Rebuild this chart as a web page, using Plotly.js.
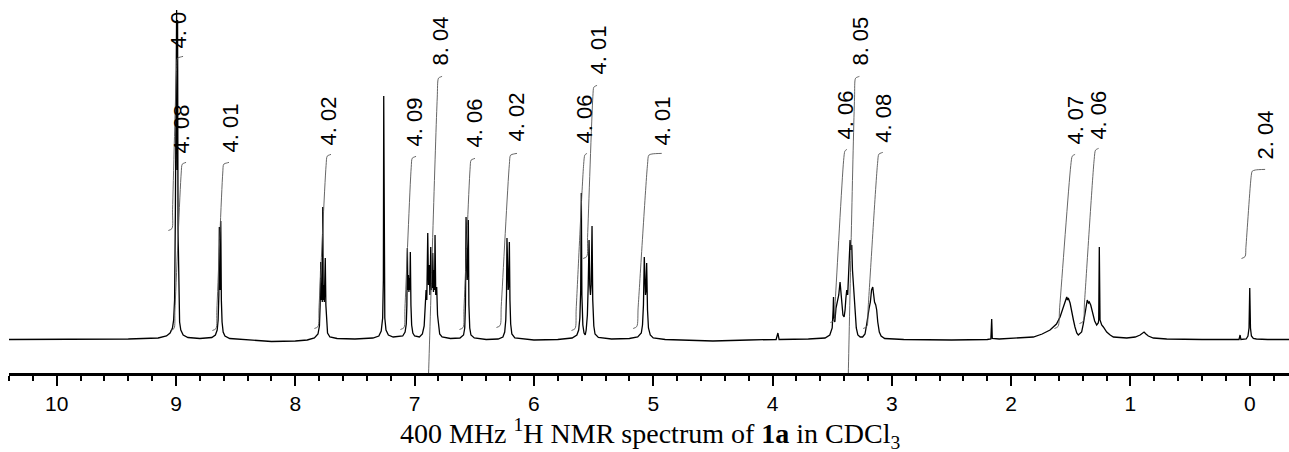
<!DOCTYPE html>
<html>
<head>
<meta charset="utf-8">
<script src="https://cdn.plot.ly/plotly-3.0.1.min.js"></script>
<style>html,body{margin:0;padding:0;background:#fff;}#chart{width:1289px;height:452px;}</style>
</head>
<body>
<div id="chart"></div>
<script>
// Spectrum: [ppm, intensity]
const spectrum = [
[10.40,0.5],[9.80,0.5],[9.40,1],[9.15,2],[9.08,4],[9.05,7],[9.03,12],[9.02,20],[9.012,40],[9.006,120],[9.002,300],[8.999,150],[8.995,330],[8.991,170],[8.987,320],[8.983,110],[8.977,35],[8.97,18],[8.96,10],[8.94,5],[8.90,2.5],[8.80,1.5],
[8.70,2.5],[8.67,5],[8.655,10],[8.647,20],[8.641,45],[8.637,113],[8.633,55],[8.630,50],[8.628,60],[8.625,119],[8.620,40],[8.614,18],[8.605,8],[8.59,4],[8.55,1.5],[8.40,0],[8.20,-1.5],[8.00,-1],[7.90,0],
[7.84,2],[7.81,6],[7.798,14],[7.792,35],[7.787,78],[7.782,40],[7.778,55],[7.774,38],[7.770,133],[7.766,40],[7.762,55],[7.757,38],[7.749,82],[7.744,35],[7.738,14],[7.73,7],[7.71,3],[7.65,1.5],[7.50,1],
[7.35,2],[7.30,4],[7.28,9],[7.268,22],[7.262,60],[7.259,244],[7.256,60],[7.250,22],[7.24,10],[7.22,5],[7.18,3],
[7.10,4],[7.08,8],[7.07,16],[7.065,35],[7.061,92],[7.057,50],[7.052,65],[7.048,48],[7.044,62],[7.040,50],[7.036,88],[7.031,35],[7.025,15],[7.015,7],[7.00,4],[6.96,3],
[6.935,6],[6.92,14],[6.912,30],[6.904,50],[6.898,40],[6.890,107],[6.884,55],[6.878,75],[6.872,45],[6.865,93],[6.859,50],[6.854,70],[6.851,52],[6.848,87],[6.842,48],[6.836,70],[6.833,50],[6.829,105],[6.823,45],[6.815,53],[6.808,25],[6.80,12],[6.79,6],[6.77,3],[6.70,1.5],
[6.62,2],[6.59,5],[6.58,12],[6.574,35],[6.569,123],[6.564,70],[6.559,60],[6.555,70],[6.550,120],[6.545,35],[6.538,12],[6.528,5],[6.50,2],[6.40,0.5],
[6.30,1],[6.26,3],[6.245,8],[6.236,20],[6.230,45],[6.226,102],[6.221,55],[6.216,50],[6.211,55],[6.206,98],[6.201,40],[6.195,16],[6.185,6],[6.16,2],[6.00,0],[5.80,0.5],
[5.68,2],[5.64,5],[5.625,10],[5.615,22],[5.608,50],[5.603,147],[5.598,45],[5.590,15],[5.580,7],[5.570,5],[5.562,10],[5.552,25],[5.545,55],[5.538,100],[5.532,55],[5.526,45],[5.520,55],[5.513,114],[5.507,40],[5.498,14],[5.488,6],[5.46,2.5],[5.35,1],
[5.20,1.5],[5.13,3],[5.10,7],[5.09,15],[5.082,35],[5.075,83],[5.070,50],[5.065,45],[5.060,50],[5.055,77],[5.048,30],[5.040,12],[5.025,5],[5.00,2],[4.90,0.5],[4.50,-1],[4.20,0],
[3.97,0.5],[3.955,7],[3.945,0.5],[3.70,1],
[3.56,2],[3.52,5],[3.50,12],[3.492,30],[3.489,43],[3.485,22],[3.478,18],[3.468,32],[3.455,40],[3.445,45],[3.434,58],[3.425,45],[3.418,35],[3.410,25],[3.400,23],[3.392,30],[3.385,42],[3.378,50],[3.370,45],[3.362,65],[3.355,90],[3.350,100],[3.343,90],[3.336,95],[3.330,70],[3.323,55],[3.316,47],[3.308,30],[3.298,12],[3.285,5],[3.265,3],[3.245,3],
[3.225,6],[3.212,15],[3.200,28],[3.190,32],[3.180,38],[3.170,50],[3.160,53],[3.152,45],[3.145,38],[3.135,35],[3.127,30],[3.118,18],[3.105,8],[3.09,4],[3.06,1.5],[2.90,0.5],[2.50,0],
[2.20,0.5],[2.17,1],[2.163,21],[2.158,1.5],[2.10,1],[1.90,2],
[1.814,3],[1.74,6],[1.674,10],[1.62,16],[1.590,23],[1.565,32],[1.548,38],[1.534,43],[1.527,40],[1.521,42],[1.506,37],[1.492,30],[1.478,20],[1.465,13],[1.450,7],[1.437,5],[1.425,6],[1.409,8],[1.395,16],[1.381,27],[1.370,36],[1.362,40],[1.352,37],[1.345,38],[1.333,35],[1.316,27],[1.300,19],[1.283,15],[1.270,17],[1.266,20],[1.261,93],[1.255,20],[1.248,16],[1.241,15],[1.227,13],[1.199,8],[1.170,5],[1.143,3],[1.031,2],[0.960,3],[0.919,5],[0.900,7],[0.886,8],[0.870,6],[0.850,4],[0.808,2],[0.696,1],[0.40,0.5],[0.137,0.5],
[0.090,0.5],[0.081,5],[0.074,0.5],[0.030,1],[0.015,4],[0.006,12],[0.0,52],[-0.006,12],[-0.014,4],[-0.030,1.5],[-0.056,1],[-0.15,0.5],[-0.33,0.5]
];

// Integrals
const intLabels = ["4. 0","4. 08","4. 01","4. 02","4. 09","8. 04","4. 06","4. 02","4. 06","4. 01","4. 01","4. 06","8. 05","4. 08","4. 07","4. 06","2. 04"];
const intStart  = [9.034, 9.017, 8.665, 7.810, 7.089, 6.897, 6.594, 6.284, 5.655, 5.557, 5.138, 3.485, 3.375, 3.210, 1.607, 1.397, 0.039];
const intTop    = [8.992, 8.952, 8.604, 7.737, 7.024, 6.804, 6.531, 6.200, 5.578, 5.502, 5.041, 3.398, 3.308, 3.113, 1.492, 1.297, -0.017];
const intEnd    = [8.941, 8.916, 8.556, 7.701, 6.988, 6.770, 6.494, 6.142, 5.555, 5.471, 4.929, 3.376, 3.272, 3.076, 1.464, 1.267, -0.129];
const intLow    = [110, 10, 10, 12, 11, -86, 11, 13, 10, 82, 12, 18, -86, 12, 12, 17, 82];
const intHigh   = [283, 177, 177, 185, 183, 263, 181, 186, 186, 254, 186, 190, 263, 187, 185, 191, 170];
const labelPpm  = [8.983, 8.950, 8.547, 7.718, 6.997, 6.787, 6.502, 6.142, 5.572, 5.463, 4.919, 3.392, 3.266, 3.073, 1.464, 1.271, -0.128];
const labelVal  = [289, 185, 185, 193, 192, 272, 190, 197, 195, 263, 193, 198, 272, 195, 193, 198, 178];

const xTicks = [10, 9, 8, 7, 6, 5, 4, 3, 2, 1, 0];

const traces = [];
traces.push({
  x: spectrum.map(p => p[0]), y: spectrum.map(p => p[1]),
  type: 'scatter', mode: 'lines', line: {color: '#000', width: 1.3}, hoverinfo: 'skip'
});

for (let i = 0; i < intLabels.length; i++) {
  const s = intStart[i], t = intTop[i], e = intEnd[i], lo = intLow[i], hi = intHigh[i];
  const w = s - t, D = hi - lo;
  const m = t - Math.min(0.03, (t - e) * 0.6);
  traces.push({
    x: [s + 0.03, s, s - 0.12 * w, t + 0.07 * w, t - 0.004, m, e],
    y: [lo - 0.5, lo + 1.5, lo + 0.12 * D, hi - 0.06 * D, hi - 1.2, hi, hi + 0.6],
    type: 'scatter', mode: 'lines', line: {color: '#555', width: 0.9, shape: 'spline', smoothing: 0.8},
    hoverinfo: 'skip'
  });
}

const annotations = intLabels.map((lab, i) => ({
  x: labelPpm[i], y: labelVal[i], xref: 'x', yref: 'y',
  text: lab, showarrow: false, textangle: -90,
  xanchor: 'center', yanchor: 'bottom',
  font: {family: 'Liberation Sans Narrow, Arial Narrow, Liberation Sans, Arial, sans-serif', size: 22, color: '#000'}
}));

annotations.push({
  xref: 'paper', yref: 'paper', x: 0.5008, y: -0.163, xanchor: 'center', yanchor: 'middle',
  showarrow: false,
  text: '400 MHz <sup>1</sup>H NMR spectrum of <b>1a</b> in CDCl<sub>3</sub>',
  font: {family: 'Liberation Serif, Times New Roman, serif', size: 28, color: '#000'}
});

const layout = {
  width: 1289, height: 452,
  margin: {l: 9, r: 0, t: 0, b: 79},
  paper_bgcolor: '#fff', plot_bgcolor: '#fff',
  showlegend: false,
  xaxis: {
    range: [10.40, -0.329], showgrid: false, zeroline: false,
    showline: true, linecolor: '#000', linewidth: 2.5,
    ticks: 'outside', ticklen: 10, tickwidth: 2, tickcolor: '#000',
    tickmode: 'array', tickvals: xTicks, ticktext: xTicks.map(String),
    tickfont: {family: 'Liberation Sans, Arial, sans-serif', size: 21, color: '#000'},
    minor: {dtick: 0.2, tick0: 0, ticks: 'outside', ticklen: 5, tickwidth: 2, tickcolor: '#000', showgrid: false},
    fixedrange: true
  },
  yaxis: {range: [-33, 340], visible: false, fixedrange: true},
  annotations: annotations
};

Plotly.newPlot('chart', traces, layout, {displayModeBar: false, staticPlot: true});
</script>
</body>
</html>
